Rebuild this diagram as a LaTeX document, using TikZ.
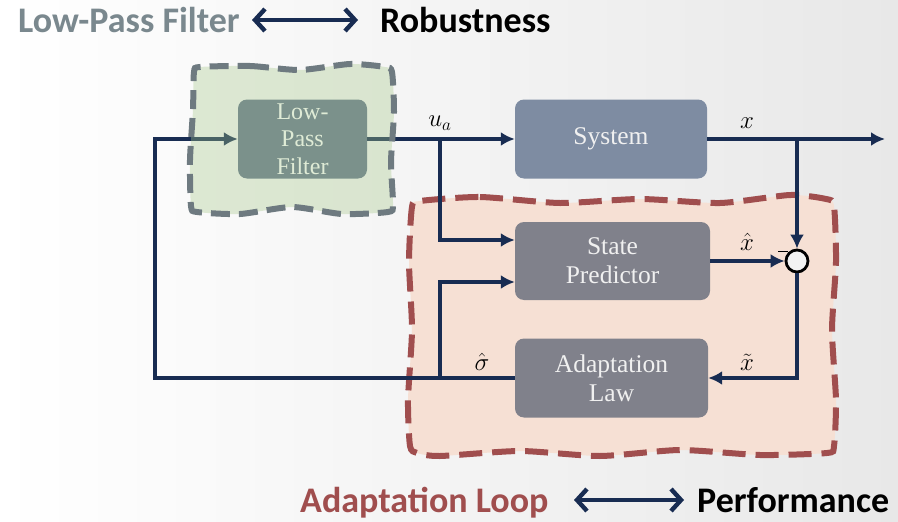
\documentclass[tikz,border=0pt]{standalone}
\usepackage{fontspec}
\usetikzlibrary{arrows.meta}
\newfontfamily\headfont{Carlito}
\newfontfamily\blockfont{Liberation Serif}
\definecolor{navy}{RGB}{24,44,82}
\definecolor{lpfgray}{RGB}{122,136,142}
\definecolor{loopred}{RGB}{160,78,78}
\definecolor{greentint}{RGB}{166,200,138}
\definecolor{redfill}{RGB}{246,224,212}
\definecolor{lpfbox}{RGB}{101,117,141}
\definecolor{sysbox}{RGB}{126,140,162}
\definecolor{graybox}{RGB}{128,129,139}
\tikzset{
  blockbox/.style={rounded corners=9pt, minimum width=#1, minimum height=79pt,
    align=center, text=white!94!black, font=\blockfont\fontsize{25.5}{29}\selectfont, inner sep=0pt},
  conn/.style={draw=navy, line width=4.4pt, -{Latex[length=14pt,width=14pt]}},
  siglabel/.style={font=\fontsize{26}{28}\selectfont, inner sep=0pt},
  headline/.style={font=\headfont\bfseries\fontsize{36}{42}\selectfont, anchor=base west, inner sep=0pt},
  twoway/.style={draw=navy, line width=4.4pt, {Straight Barb[length=10pt,width=22pt]}-{Straight Barb[length=10pt,width=22pt]}},
}
\begin{document}
\begin{tikzpicture}[x=1pt,y=-1pt]
\useasboundingbox (0,0) rectangle (898,522);
% background: white fading to light grey on the right
\shade[left color=white, right color=black!9] (0,0) rectangle (898,522);

% adaptation loop region (below the signal lines)
\draw[fill=redfill, draw=loopred, line width=6pt, dash pattern=on 23pt off 10pt]
  plot[smooth cycle, tension=0.4] coordinates {
   (420,201) (480,197) (560,203) (640,199) (720,203) (790,195) (826,199) (834,206)
   (836,262) (832,330) (836,400) (834,446) (827,453) (760,455) (680,450) (600,456)
   (520,451) (440,456) (417,453) (410,446) (408,400) (412,330) (409,262) (412,207)};

% blocks
\node[blockbox=129pt, fill=lpfbox, text=white, font=\blockfont\fontsize{24}{27.5}\selectfont]
  (lpf) at (302.5,139) {Low-\\Pass\\Filter};
\node[blockbox=192pt, fill=sysbox] (sys) at (611,139) {System};
\node[blockbox=195pt, fill=graybox, minimum height=78pt] (sp) at (612.5,261) {State\\Predictor};
\node[blockbox=193pt, fill=graybox] (al) at (611.5,378) {Adaptation\\Law};
\node[circle, draw=black, fill=black!5, line width=2.8pt, minimum size=22pt, inner sep=0pt]
  (sum) at (797,261) {};

% branch and corner points
\coordinate (tl) at (155,139);
\coordinate (bl) at (155,378);
\coordinate (ua) at (440,139);
\coordinate (uad) at (440,240);
\coordinate (sg) at (440,378);
\coordinate (sgu) at (440,282);
\coordinate (xb) at (797,139);
\coordinate (xout) at (885,139);
\coordinate (xt) at (797,378);

% signal lines
\draw[conn] (al.west) -- (bl) -- (tl) -- (lpf.west);
\draw[conn] (lpf.east) -- (sys.west);
\draw[conn] (ua) -- (uad) -- (sp.west |- uad);
\draw[conn] (sg) -- (sgu) -- (sp.west |- sgu);
\draw[conn] (sys.east) -- (xout);
\draw[conn] (xb) -- (sum.north);
\draw[conn] (sp.east) -- (sum.west);
\draw[conn] (sum.south) -- (xt) -- (al.east);

% low-pass filter region: translucent tint laid over the filter
\fill[greentint, fill opacity=0.35]
  plot[smooth cycle, tension=0.4] coordinates {
   (200,67) (250,66) (300,70) (350,64) (385,67) (392,72) (394,112) (391,162)
   (393,205) (388,212) (342,214) (292,207) (240,214) (197,212) (191,206) (190,160)
   (193,110) (194,72)};
\draw[draw=lpfgray!90!black, line width=6pt, dash pattern=on 19pt off 9pt]
  plot[smooth cycle, tension=0.4] coordinates {
   (200,67) (250,66) (300,70) (350,64) (385,67) (392,72) (394,112) (391,162)
   (393,205) (388,212) (342,214) (292,207) (240,214) (197,212) (191,206) (190,160)
   (193,110) (194,72)};

% signal labels
\node[siglabel] (lua) at (440,123) {$u_a$};
\node[siglabel] (lx) at (747,123) {$x$};
\node[siglabel] (lxh) at (747,242) {$\hat{x}$};
\node[siglabel] (lxt) at (747,362) {$\tilde{x}$};
\node[siglabel] (lsg) at (482,362) {$\hat{\sigma}$};
\draw[black, line width=1pt] (778,251) -- (788,251);

% headings with two-way arrows
\node[headline, text=lpfgray] (h1) at (18,32) {Low-Pass Filter};
\node[headline, text=black] (h2) at (380,32) {Robustness};
\coordinate (a1) at (252,20);
\coordinate (a2) at (358,20);
\draw[twoway] (a1) -- (a2);
\node[headline, text=loopred] (h3) at (300,512) {Adaptation Loop};
\node[headline, text=black] (h4) at (697,512) {Performance};
\coordinate (b1) at (574,500);
\coordinate (b2) at (684,500);
\draw[twoway] (b1) -- (b2);
\end{tikzpicture}
\end{document}
